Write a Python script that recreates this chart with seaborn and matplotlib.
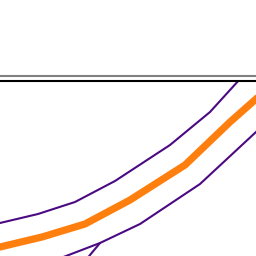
import matplotlib
matplotlib.use("Agg")
import matplotlib.pyplot as plt
import seaborn as sns
import pandas as pd
from matplotlib.lines import Line2D

# data (x, y) in chart units
mid_x = [0, 42, 85, 130, 185, 230, 256, 275]
mid_y = [9, 19, 32, 56, 91, 134, 157, 175]
upper_x = [0, 38, 75, 115, 170, 210, 240, 262]
upper_y = [33, 42, 54, 75, 111, 144, 177, 200]
lower_x = [40, 100, 140, 200, 256, 275]
lower_y = [-10, 13, 32, 72, 124, 142]
branch_x = [80, 100]
branch_y = [-11, 13]

sns.set_theme(style="white")
fig = plt.figure(figsize=(2.56, 2.56), dpi=100)
ax = fig.add_axes([0, 0, 1, 1 - 80.5 / 256])

purple = "#4b0a82"
sns.lineplot(x=upper_x, y=upper_y, ax=ax, color=purple, linewidth=1.5, sort=False, estimator=None)
sns.lineplot(x=lower_x, y=lower_y, ax=ax, color=purple, linewidth=1.5, sort=False, estimator=None)
sns.lineplot(x=branch_x, y=branch_y, ax=ax, color=purple, linewidth=1.5, sort=False, estimator=None)
sns.lineplot(x=mid_x, y=mid_y, ax=ax, color="#ff7f0e", linewidth=5.2, sort=False, estimator=None)

ax.set_xlim(0, 256)
ax.set_ylim(0, 256 - 80.5)
for s in ["left", "right", "bottom"]:
    ax.spines[s].set_visible(False)
ax.spines["top"].set_color("black")
ax.spines["top"].set_linewidth(1.5)
ax.set_xticks([])
ax.set_yticks([])
ax.set_xlabel("")
ax.set_ylabel("")

yg = 1 - 75.5 / 256
fig.add_artist(Line2D([0, 1], [yg, yg], transform=fig.transFigure, color="#808080", linewidth=1.5))

fig.savefig("out.png", dpi=100)
